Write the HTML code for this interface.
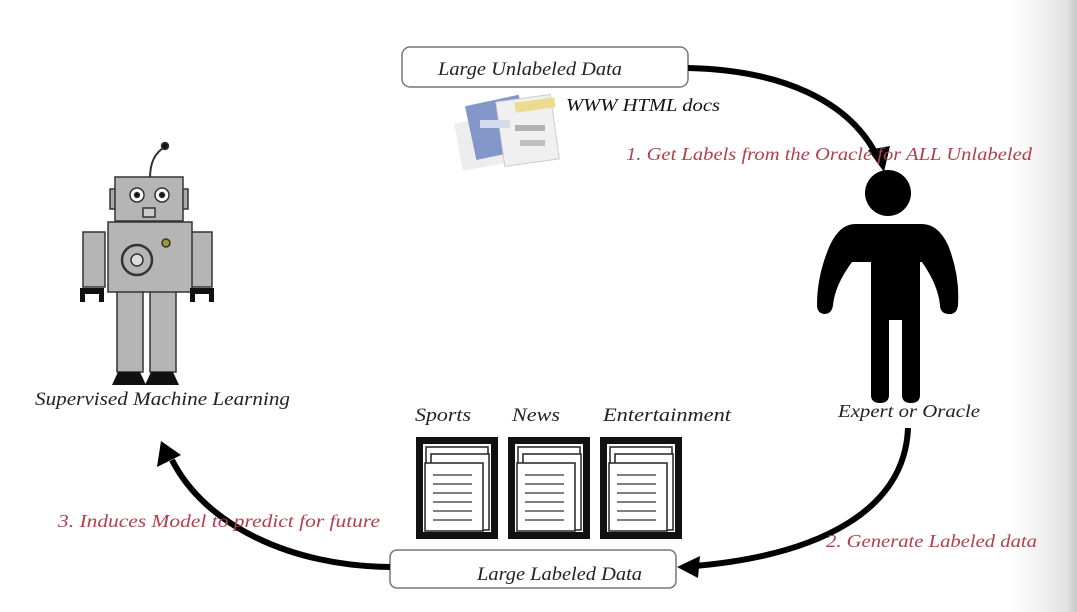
<!DOCTYPE html>
<html><head><meta charset="utf-8"><style>
html,body{margin:0;padding:0;width:1077px;height:612px;overflow:hidden;background:#fff}
svg{display:block}
text{font-family:"Liberation Serif",serif;font-style:italic}
</style></head><body>
<svg width="1077" height="612" viewBox="0 0 1077 612" xmlns="http://www.w3.org/2000/svg">
<defs>
<linearGradient id="side" x1="0" x2="1" y1="0" y2="0">
<stop offset="0" stop-color="#fff"/><stop offset="0.6" stop-color="#ececec"/><stop offset="0.85" stop-color="#e2e2e2"/><stop offset="1" stop-color="#c8c8c8"/>
</linearGradient>
</defs>
<rect x="1010" y="0" width="67" height="612" fill="url(#side)"/>

<!-- top box -->
<rect x="402" y="47" width="286" height="40" rx="8" fill="#fff" stroke="#777" stroke-width="1.5"/>
<text x="438" y="75" font-size="19" fill="#222" textLength="184" lengthAdjust="spacingAndGlyphs">Large Unlabeled Data</text>

<!-- www docs image -->
<g opacity="0.75">
<rect x="458" y="118" width="60" height="48" fill="#e8e8ec" transform="rotate(-10 488 142)"/>
<rect x="470" y="100" width="55" height="55" fill="#5a73b8" transform="rotate(-12 497 127)"/>
<rect x="500" y="98" width="55" height="65" fill="#ececec" stroke="#bbb" transform="rotate(-8 527 130)"/>
<rect x="515" y="100" width="40" height="10" fill="#e6cf6a" transform="rotate(-8 535 105)"/>
<rect x="480" y="120" width="30" height="8" fill="#c6cde6"/>
<rect x="515" y="125" width="30" height="6" fill="#999"/>
<rect x="520" y="140" width="25" height="6" fill="#aaa"/>
</g>
<text x="566" y="111" font-size="18" fill="#111" textLength="154" lengthAdjust="spacingAndGlyphs">WWW HTML docs</text>

<!-- arrow 1 -->
<path d="M688,68 C780,70 850,100 878,158" fill="none" stroke="#000" stroke-width="6"/>
<polygon points="868,150 890,146 884,172" fill="#000"/>
<text x="626" y="160" font-size="18" fill="#b0404c" textLength="406" lengthAdjust="spacingAndGlyphs">1. Get Labels from the Oracle for ALL Unlabeled</text>

<!-- person -->
<circle cx="888" cy="193" r="23" fill="#000"/>
<path d="M855,224 L922,224 Q938,224 948,245 Q960,275 958,305 Q957,315 948,314 Q940,313 940,305 Q938,285 922,262 L920,262 L920,395 Q920,403 911,403 Q902,403 902,395 L902,320 L889,320 L889,395 Q889,403 880,403 Q871,403 871,395 L871,262 L852,262 Q835,285 833,305 Q832,314 824,314 Q817,313 817,305 Q817,275 830,245 Q840,224 855,224 Z" fill="#000"/>
<text x="838" y="417" font-size="18" fill="#222" textLength="142" lengthAdjust="spacingAndGlyphs">Expert or Oracle</text>

<!-- arrow 2 -->
<path d="M908,428 C905,510 820,555 695,566" fill="none" stroke="#000" stroke-width="6"/>
<polygon points="677,567 700,556 698,578" fill="#000"/>
<text x="826" y="547" font-size="18" fill="#b0404c" textLength="211" lengthAdjust="spacingAndGlyphs">2. Generate Labeled data</text>

<!-- bottom box -->
<rect x="390" y="550" width="286" height="38" rx="7" fill="#fff" stroke="#777" stroke-width="1.5"/>
<text x="477" y="580" font-size="19" fill="#222" textLength="165" lengthAdjust="spacingAndGlyphs">Large Labeled Data</text>

<!-- arrow 3 -->
<path d="M390,567 C290,566 205,525 172,460" fill="none" stroke="#000" stroke-width="6"/>
<polygon points="161,441 157,467 181,455" fill="#000"/>
<text x="58" y="527" font-size="18" fill="#b0404c" textLength="322" lengthAdjust="spacingAndGlyphs">3. Induces Model to predict for future</text>

<!-- category labels -->
<text x="415" y="421" font-size="19" fill="#222" textLength="56" lengthAdjust="spacingAndGlyphs">Sports</text>
<text x="512" y="421" font-size="19" fill="#222" textLength="48" lengthAdjust="spacingAndGlyphs">News</text>
<text x="603" y="421" font-size="19" fill="#222" textLength="128" lengthAdjust="spacingAndGlyphs">Entertainment</text>

<!-- doc icons -->
<g id="doc">
<rect x="416" y="437" width="82" height="102" fill="#111"/>
<rect x="423" y="444" width="68" height="88" fill="#fff"/>
<rect x="426" y="447" width="62" height="80" fill="#fff" stroke="#222" stroke-width="1.5"/>
<rect x="431" y="454" width="58" height="76" fill="#fff" stroke="#222" stroke-width="1.5"/>
<rect x="425" y="463" width="58" height="68" fill="#fff" stroke="#222" stroke-width="1.5"/>
<g stroke="#555" stroke-width="1.5">
<line x1="433" y1="475" x2="472" y2="475"/><line x1="433" y1="484" x2="472" y2="484"/>
<line x1="433" y1="493" x2="472" y2="493"/><line x1="433" y1="502" x2="472" y2="502"/>
<line x1="433" y1="511" x2="472" y2="511"/><line x1="433" y1="520" x2="472" y2="520"/>
</g>
</g>
<use href="#doc" x="92"/>
<use href="#doc" x="184"/>

<!-- robot -->
<g stroke="#333" stroke-width="1.5">
<path d="M150,178 Q150,155 165,147" fill="none" stroke-width="2"/>
<circle cx="165" cy="146" r="3.5" fill="#111"/>
<rect x="110" y="189" width="7" height="20" fill="#aaa"/>
<rect x="181" y="189" width="7" height="20" fill="#aaa"/>
<rect x="115" y="177" width="68" height="44" fill="#b5b5b5"/>
<circle cx="137" cy="195" r="7" fill="#fff"/><circle cx="137" cy="195" r="2.5" fill="#111"/>
<circle cx="162" cy="195" r="7" fill="#fff"/><circle cx="162" cy="195" r="2.5" fill="#111"/>
<rect x="143" y="208" width="12" height="9" fill="#ccc"/>
<rect x="83" y="232" width="22" height="55" fill="#b5b5b5"/>
<rect x="190" y="232" width="22" height="55" fill="#b5b5b5"/>
<rect x="117" y="290" width="26" height="82" fill="#b5b5b5"/>
<rect x="150" y="290" width="26" height="82" fill="#b5b5b5"/>
<rect x="108" y="222" width="84" height="70" fill="#b5b5b5"/>
<circle cx="137" cy="260" r="15" fill="#b5b5b5" stroke-width="2.5"/>
<circle cx="137" cy="260" r="6" fill="#ddd"/>
<circle cx="166" cy="243" r="4" fill="#9a9a30"/>
</g>
<path d="M80,288 h24 v14 h-5 v-8 h-14 v8 h-5z" fill="#111"/>
<path d="M190,288 h24 v14 h-5 v-8 h-14 v8 h-5z" fill="#111"/>
<path d="M112,385 L118,372 L140,372 L146,385Z" fill="#111"/>
<path d="M145,385 L151,372 L173,372 L179,385Z" fill="#111"/>
<text x="35" y="405" font-size="19" fill="#222" textLength="255" lengthAdjust="spacingAndGlyphs">Supervised Machine Learning</text>
</svg>
</body></html>
